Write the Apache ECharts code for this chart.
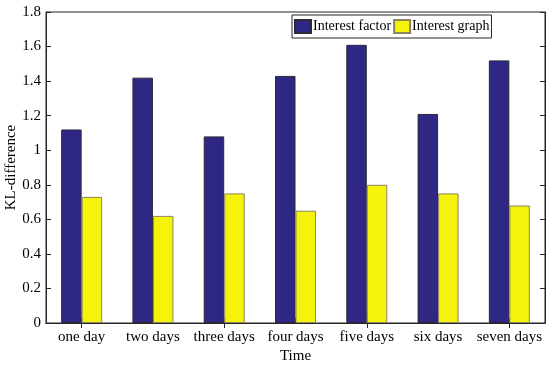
<!DOCTYPE html>
<html><head><meta charset="utf-8">
<script src="https://cdn.jsdelivr.net/npm/echarts@6/dist/echarts.min.js"></script>
<style>html,body{margin:0;padding:0;background:#fff}#c{width:550px;height:367px}</style>
</head><body><div id="c"></div>
<script>
var categories = ['one day','two days','three days','four days','five days','six days','seven days'];
var interestFactor = [1.12, 1.42, 1.08, 1.43, 1.61, 1.21, 1.52];
var interestGraph = [0.73, 0.62, 0.75, 0.65, 0.80, 0.75, 0.68];
var seriesNames = ['Interest factor', 'Interest graph'];
var FONT = '"Liberation Serif", "Times New Roman", serif';
var chart = echarts.init(document.getElementById('c'));
var axisLine = {show: true, lineStyle: {color: '#262626', width: 1}};
chart.setOption({
  animation: false,
  grid: {left: 46, right: 5, top: 12, bottom: 44, outerBoundsMode: 'none', containLabel: false,
         show: true, borderColor: '#262626', borderWidth: 1, backgroundColor: '#fff'},
  legend: {
    data: seriesNames, left: 292, top: 15, orient: 'horizontal', icon: 'rect',
    itemWidth: 16, itemHeight: 13, itemGap: 2,
    borderColor: '#262626', borderWidth: 1, padding: [4, 2, 4, 2],
    backgroundColor: '#fff',
    textStyle: {fontFamily: FONT, fontSize: 14, color: '#000', padding: [0, 0, 0, -3]}
  },
  xAxis: [{
    type: 'category', data: categories, name: 'Time', nameLocation: 'middle', nameGap: 26,
    nameMoveOverlap: false,
    nameTextStyle: {fontFamily: FONT, fontSize: 15, color: '#000'},
    axisLine: axisLine,
    axisTick: {show: true, inside: true, alignWithLabel: true, length: 5, lineStyle: {color: '#262626'}},
    axisLabel: {fontFamily: FONT, fontSize: 15, color: '#000', margin: 7, interval: 0}
  }, {
    type: 'category', data: categories, position: 'top',
    axisLine: axisLine,
    axisTick: {show: true, inside: true, alignWithLabel: true, length: 5, lineStyle: {color: '#262626'}},
    axisLabel: {show: false}
  }],
  yAxis: [{
    type: 'value', min: 0, max: 1.8, interval: 0.2, name: 'KL-difference', nameLocation: 'middle', nameGap: 27,
    nameMoveOverlap: false,
    nameTextStyle: {fontFamily: FONT, fontSize: 15, color: '#000'},
    axisLine: axisLine,
    axisTick: {show: true, inside: true, length: 5, lineStyle: {color: '#262626'}},
    splitLine: {show: false},
    axisLabel: {fontFamily: FONT, fontSize: 15, color: '#000', margin: 5,
      formatter: function(v){ return String(Math.round(v*10)/10); }}
  }, {
    type: 'value', min: 0, max: 1.8, interval: 0.2, position: 'right',
    axisLine: axisLine,
    axisTick: {show: true, inside: true, length: 5, lineStyle: {color: '#262626'}},
    splitLine: {show: false}, axisLabel: {show: false}
  }],
  series: [{
    name: seriesNames[0], type: 'bar', data: interestFactor, barWidth: 20.5, barGap: '0%',
    itemStyle: {color: '#2e2884', borderColor: '#2a2a3a', borderWidth: 1}
  }, {
    name: seriesNames[1], type: 'bar', data: interestGraph, barWidth: 20.5,
    itemStyle: {color: '#f5f20c', borderColor: '#8c8460', borderWidth: 1}
  }]
});
</script></body></html>
